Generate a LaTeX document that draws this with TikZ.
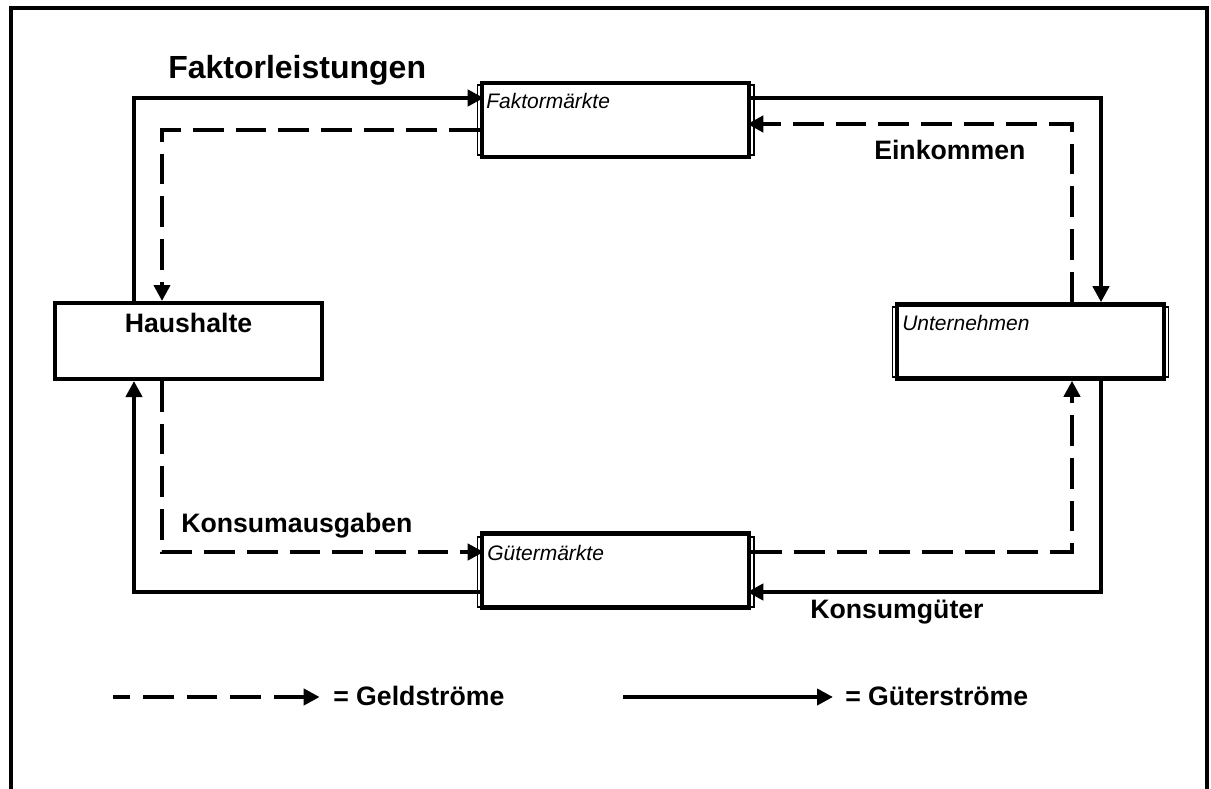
\documentclass[tikz,border=0pt]{standalone}
\usepackage{fontspec}
\setmainfont{Liberation Sans}
\usetikzlibrary{arrows.meta}
\tikzset{
  flow/.style={line width=3pt},
  money/.style={line width=3.4pt, dash pattern=on 23pt off 9pt},
  tip/.style={-{Triangle[length=12pt,width=12pt]}},
  market/.style={draw, line width=3.4pt, minimum width=200.25pt, minimum height=55.5pt, inner sep=0pt},
  house/.style={draw, line width=3pt, minimum width=200.25pt, minimum height=57pt, inner sep=0pt},
  sideline/.style={line width=0.9pt},
  boxtext/.style={font=\itshape\fontsize{15.75}{18}\selectfont, anchor=base west, inner sep=0pt},
  lbl/.style={font=\bfseries\fontsize{20}{24}\selectfont, anchor=base west, inner sep=0pt},
  frame/.style={line width=2.5pt}
}
\begin{document}
\begin{tikzpicture}[x=0.75pt,y=-0.75pt]
\useasboundingbox (0,0) rectangle (1211,789);
% outer frame (open at the bottom)
\draw[frame] (11,789) -- (11,8) -- (1207,8) -- (1207,789);

% boxes
\node[market] (fm) at (615.5,120) {};
\node[market] (gm) at (615.5,570.5) {};
\node[market] (un) at (1030.5,341.5) {};
\node[house]  (hh) at (188.5,341) {};

% thin outer side lines of the market boxes
\draw[sideline] (477.5,85) rectangle (754,155);
\draw[sideline] (477.5,537) rectangle (754,607);
\draw[sideline] (892.5,307) rectangle (1168.5,377);
\node[market, fill=white] at (615.5,120) {};
\node[market, fill=white] at (615.5,570.5) {};
\node[market, fill=white] at (1030.5,341.5) {};

% box texts
\node[boxtext] (fmt) at (486,108) {Faktormärkte};
\node[boxtext] (gmt) at (487,560) {Gütermärkte};
\node[boxtext] (unt) at (902,330) {Unternehmen};
\node[lbl, anchor=base] (hht) at (188.5,332) {Haushalte};

% flows
\draw[flow,tip,shorten >=-3pt] (hh.north -| 134,0) |- (fm.west |- 0,98);
\draw[money,tip] (fm.west |- 0,130) -| (hh.north -| 162,0);
\draw[money,tip,shorten >=-3pt] (hh.south -| 162,0) |- (gm.west |- 0,552);
\draw[flow,tip] (gm.west |- 0,592) -| (hh.south -| 134,0);
\draw[flow,tip] (fm.east |- 0,98) -| (un.north -| 1101,0);
\draw[money,tip,shorten >=-3pt] (un.north -| 1072,0) |- (fm.east |- 0,124);
\draw[money,tip] (gm.east |- 0,552) -| (un.south -| 1072,0);
\draw[flow,tip,shorten >=-3pt] (un.south -| 1101,0) |- (gm.east |- 0,592);

% labels
\node[lbl, font=\bfseries\fontsize{24}{28}\selectfont] (fl) at (168,78) {Faktorleistungen};
\node[lbl] (ek) at (874,159) {Einkommen};
\node[lbl] (ka) at (181,532) {Konsumausgaben};
\node[lbl] (kg) at (810,618) {Konsumgüter};

% legend
\node[lbl] (lg1) at (333,705) {= Geldströme};
\node[lbl] (lg2) at (845,705) {= Güterströme};
\coordinate (ls1) at (113,697);
\coordinate (ls2) at (623,697);
\draw[money,tip,dash pattern=on 23pt off 9.75pt, dash phase=10.25pt] (ls1) -- ([xshift=-10pt]lg1.west |- ls1);
\draw[flow,tip] (ls2) -- ([xshift=-9pt]lg2.west |- ls2);
\end{tikzpicture}
\end{document}
